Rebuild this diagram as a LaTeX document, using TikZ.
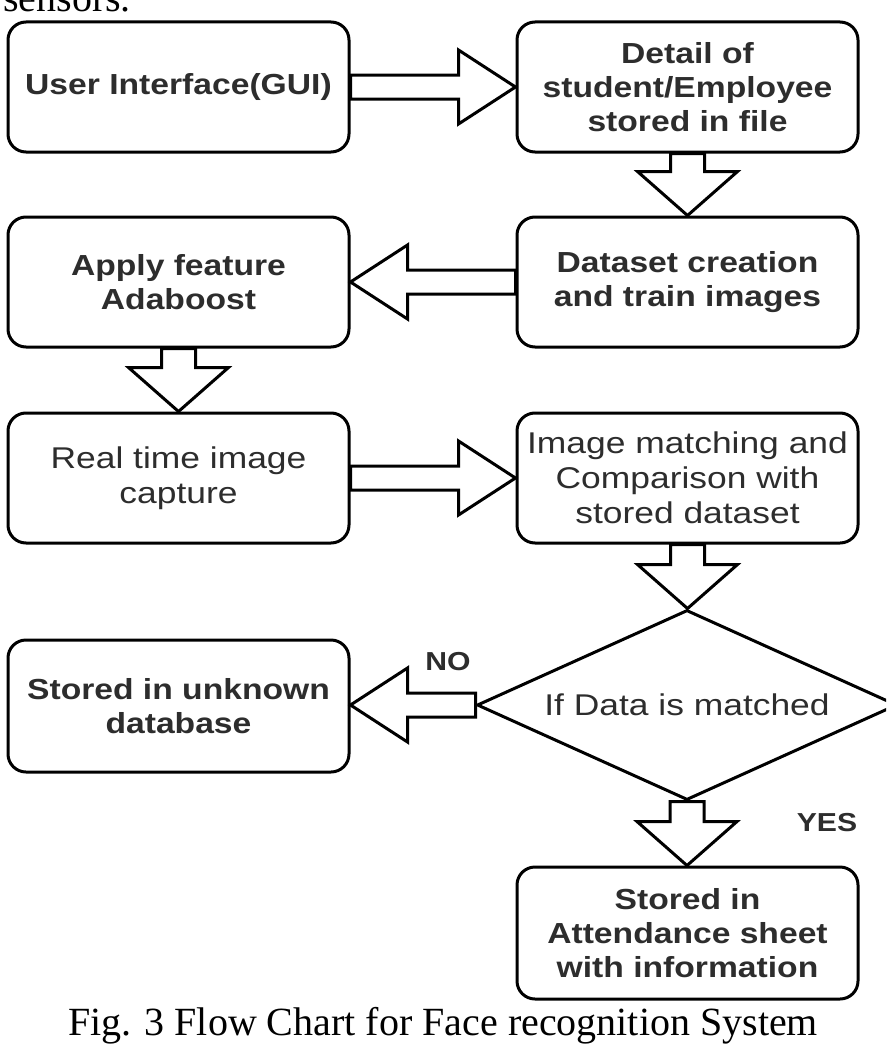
\documentclass[tikz,border=0pt]{standalone}
\usepackage{fontspec}
\usetikzlibrary{shapes.geometric,calc}
\newfontfamily\sansfnt[FakeStretch=1.16]{Liberation Sans}
\newfontfamily\regfnt[FakeStretch=1.18]{Liberation Sans}
\newfontfamily\seriffnt[FakeStretch=1.0]{Liberation Serif}
\definecolor{txt}{RGB}{45,45,45}
\tikzset{
  box/.style={draw=black, line width=3pt, rounded corners=18pt, fill=white,
    minimum width=341pt, minimum height=130pt, inner sep=0pt, align=center, text=txt},
  boldtxt/.style={font=\sansfnt\bfseries\fontsize{29}{34}\selectfont},
  regtxt/.style={font=\regfnt\fontsize{30}{35}\selectfont},
  decision/.style={draw=black, line width=3pt, shape=diamond, aspect=2.21, fill=white,
    minimum width=420pt, minimum height=190pt, inner sep=0pt, text=txt},
  blk/.style={draw=black, line width=3pt, fill=white, line join=miter},
  lbl/.style={font=\sansfnt\bfseries\fontsize{26}{28}\selectfont, text=txt},
}
% horizontal block arrow pointing right
\newcommand{\arrR}[2]{\draw[blk] let \p1=(#1.east), \p2=(#2.west) in
  (\x1,\y1+12pt) -- (\x2-57pt,\y1+12pt) -- (\x2-57pt,\y1+37pt) -- (\x2,\y1) --
  (\x2-57pt,\y1-37pt) -- (\x2-57pt,\y1-12pt) -- (\x1,\y1-12pt) -- cycle;}
% horizontal block arrow pointing left
\newcommand{\arrL}[2]{\draw[blk] let \p1=(#1.west), \p2=(#2.east) in
  (\x1,\y1+12pt) -- (\x2+57pt,\y1+12pt) -- (\x2+57pt,\y1+37pt) -- (\x2,\y1) --
  (\x2+57pt,\y1-37pt) -- (\x2+57pt,\y1-12pt) -- (\x1,\y1-12pt) -- cycle;}
% vertical block arrow pointing down
\newcommand{\arrD}[2]{\draw[blk] let \p1=(#1.south), \p2=(#2.north) in
  (\x1-17pt,\y1) -- (\x1-17pt,\y2+44pt) -- (\x1-50pt,\y2+44pt) -- (\x1,\y2) --
  (\x1+50pt,\y2+44pt) -- (\x1+17pt,\y2+44pt) -- (\x1+17pt,\y1) -- cycle;}
\begin{document}
\begin{tikzpicture}[x=1pt,y=-1pt]
\useasboundingbox (0,0) rectangle (886,1057);
\clip (0,0) rectangle (886,1057);
\fill[white] (0,0) rectangle (886,1057);

\node[anchor=base west, font=\seriffnt\fontsize{40}{44}\selectfont, inner sep=0pt] (sens) at (3,12) {sensors.};

\node[box, boldtxt] (ui) at (178.5,87) {User Interface(GUI)};
\node[box, boldtxt] (detail) at (687.5,87) {Detail of\\student/Employee\\stored in file};
\node[box, boldtxt] (ada) at (178.5,282) {Apply feature\\Adaboost};
\node[box, boldtxt] (data) at (687.5,282) {Dataset creation\\and train images};
\node[box, regtxt] (real) at (178.5,478) {Real time image\\capture};
\node[box, regtxt] (match) at (687.5,478) {Image matching and\\Comparison with\\stored dataset};
\node[decision, regtxt] (dec) at (687,705) {If Data is matched};
\node[box, boldtxt, minimum height=132pt] (unk) at (178.5,706) {Stored in unknown\\database};
\node[box, boldtxt, minimum height=132pt] (att) at (687.5,933) {Stored in\\Attendance sheet\\with information};

\arrR{ui}{detail}
\arrD{detail}{data}
\arrL{data}{ada}
\arrD{ada}{real}
\arrR{real}{match}
\arrD{match}{dec}
\arrL{dec}{unk}
\arrD{dec}{att}

\node[lbl] (no) at (448,662) {NO};
\node[lbl] (yes) at (827,823) {YES};

\node[font=\seriffnt\fontsize{40}{44}\selectfont, inner sep=0pt] (cap) at (443,1026) {Fig. 3 Flow Chart for Face recognition System};
\end{tikzpicture}
\end{document}
